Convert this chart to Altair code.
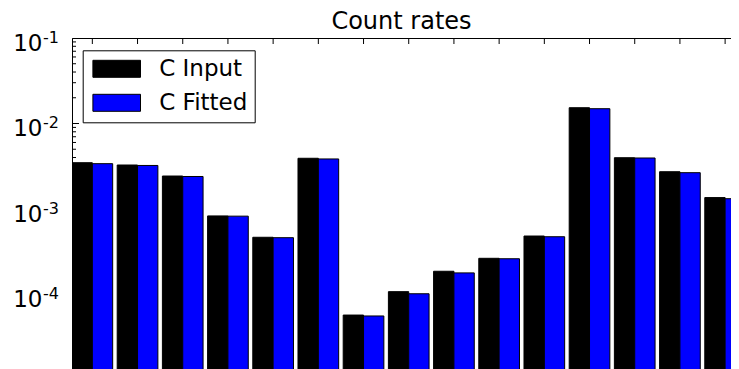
import altair as alt
import pandas as pd

# ---- data ----
groups = list(range(15))
c_input = [3.48e-3, 3.27e-3, 2.43e-3, 8.3e-4, 4.67e-4, 3.92e-3, 5.75e-5, 1.08e-4,
           1.87e-4, 2.65e-4, 4.83e-4, 1.53e-2, 3.98e-3, 2.73e-3, 1.36e-3]
c_fitted = [3.39e-3, 3.23e-3, 2.40e-3, 8.25e-4, 4.62e-4, 3.85e-3, 5.61e-5, 1.02e-4,
            1.79e-4, 2.62e-4, 4.74e-4, 1.49e-2, 3.95e-3, 2.66e-3, 1.32e-3]
series_names = ["C Input", "C Fitted"]
series_colors = ["#000000", "#0000ff"]
decade_ticks = [1e-5, 1e-4, 1e-3, 1e-2, 1e-1]
decade_exponents = ["-5", "-4", "-3", "-2", "-1"]
minor_ticks = [m * 10.0 ** e for e in range(-5, -1) for m in range(2, 10)]
top_ticks = [g + 0.45 for g in groups]

rows = []
for g, a, b in zip(groups, c_input, c_fitted):
    rows.append({"group": g, "series": series_names[0], "value": a})
    rows.append({"group": g, "series": series_names[1], "value": b})
df = pd.DataFrame(rows)

FONT = "DejaVu Sans"
W, H = 659, 342
BAR_W = 0.45
Y_FLOOR = 1e-5

# the reference figure is cropped on the right and at the bottom
xscale = alt.Scale(domain=[0, 14.58], nice=False, zero=False)
yscale = alt.Scale(type="log", domain=[1e-5, 1e-1], nice=False)

bars = alt.Chart(df).transform_calculate(
    x0="datum.group + (datum.series == 'C Fitted' ? %s : 0)" % BAR_W,
    x1="datum.x0 + %s" % BAR_W,
).mark_bar(stroke="black", strokeWidth=1, clip=True, opacity=1).encode(
    x=alt.X("x0:Q", scale=xscale,
            axis=alt.Axis(orient="top", labels=False, ticks=False, grid=False,
                          domain=True, domainColor="black", domainWidth=1, title=None,
                          minExtent=0, maxExtent=0)),
    x2="x1:Q",
    y=alt.Y("value:Q", scale=yscale,
            axis=alt.Axis(values=decade_ticks, labelExpr="'10'", ticks=False,
                          domain=True, domainColor="black", domainWidth=1,
                          grid=False, title=None, labelFontSize=23,
                          labelFont=FONT, labelColor="black", labelPadding=30,
                          labelBaseline="alphabetic", labelOffset=12,
                          minExtent=64, maxExtent=64)),
    y2=alt.Y2(datum=Y_FLOOR),
    color=alt.Color("series:N", sort=series_names,
                    scale=alt.Scale(domain=series_names, range=series_colors),
                    legend=alt.Legend(title=None, orient="none", legendX=10.7, legendY=12.3,
                                      direction="vertical",
                                      symbolType="M-2.8,-1H2.8V1H-2.8Z", symbolSize=289,
                                      symbolStrokeColor="black", symbolStrokeWidth=1,
                                      symbolOpacity=1, symbolOffset=15.5,
                                      labelFontSize=23, labelFont=FONT, labelColor="black",
                                      labelOffset=31, padding=7, rowPadding=10,
                                      strokeColor="black", fillColor="white",
                                      cornerRadius=0)),
)

ytick_df = pd.DataFrame({"v": decade_ticks, "exp": decade_exponents})
yminor_df = pd.DataFrame({"v": minor_ticks})
xtick_df = pd.DataFrame({"t": top_ticks})

ymajor = alt.Chart(ytick_df).mark_rule(color="black", strokeWidth=1, clip=True).encode(
    y=alt.Y("v:Q", scale=yscale), x=alt.value(0), x2=alt.value(7))
yminor = alt.Chart(yminor_df).mark_rule(color="black", strokeWidth=1, clip=True).encode(
    y=alt.Y("v:Q", scale=yscale), x=alt.value(0), x2=alt.value(4))
xticks = alt.Chart(xtick_df).mark_rule(color="black", strokeWidth=1, clip=True).encode(
    x=alt.X("t:Q", scale=xscale), y=alt.value(0), y2=alt.value(6))
# superscript exponents of the y tick labels
yexp = alt.Chart(ytick_df).mark_text(
    align="left", baseline="alphabetic", font=FONT, fontSize=16, color="black", dy=4.5
).encode(y=alt.Y("v:Q", scale=yscale), x=alt.value(-29), text="exp:N")

chart = alt.layer(bars, ymajor, yminor, xticks, yexp).properties(
    width=W, height=H, padding={"left": 0, "top": 1, "right": 0, "bottom": 0},
    title=alt.Title("Count rates", fontSize=24, font=FONT, fontWeight="normal",
                    color="black", offset=-4),
).configure_view(stroke=None).configure(background="white")

chart.save("out.html", embed_options={"renderer": "svg", "actions": False})
